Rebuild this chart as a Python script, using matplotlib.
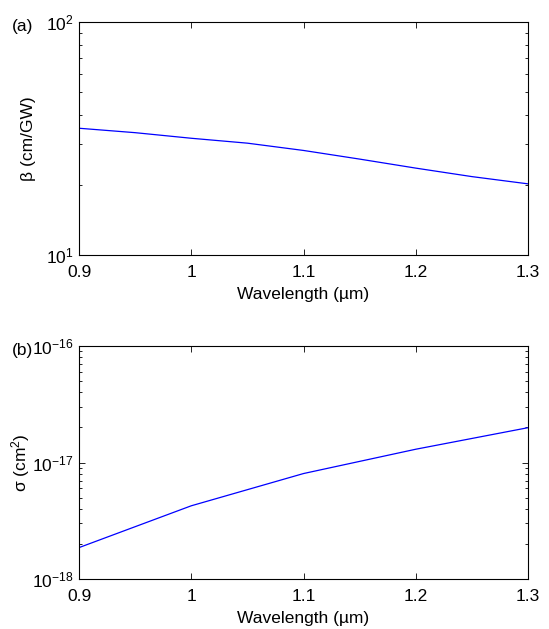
import numpy as np
import matplotlib
matplotlib.use("Agg")
import matplotlib.pyplot as plt
from matplotlib.ticker import LogLocator, NullFormatter

plt.rcParams['font.family'] = ['Liberation Sans', 'DejaVu Sans']
plt.rcParams['mathtext.fontset'] = 'custom'
plt.rcParams['mathtext.rm'] = 'Liberation Sans'
plt.rcParams['mathtext.it'] = 'Liberation Sans'
plt.rcParams['font.size'] = 12.5

# data
wl_beta = [0.9, 0.95, 1.0, 1.05, 1.1, 1.15, 1.2, 1.25, 1.3]
beta = [35.0, 33.5, 31.7, 30.2, 28.1, 25.8, 23.6, 21.7, 20.2]

wl_sigma = [0.9, 1.0, 1.1, 1.2, 1.3]
sigma = [1.86e-18, 4.25e-18, 8.04e-18, 1.30e-17, 1.99e-17]

xticks = [0.9, 1.0, 1.1, 1.2, 1.3]
xticklabels = ['0.9', '1', '1.1', '1.2', '1.3']


def style_axes(ax):
    ax.set_yscale('log')
    ax.set_xlim(0.9, 1.3)
    ax.set_xticks(xticks)
    ax.set_xticklabels(xticklabels)
    ax.yaxis.set_minor_locator(LogLocator(base=10, subs=np.arange(2, 10)))
    ax.yaxis.set_minor_formatter(NullFormatter())
    ax.tick_params(which='both', direction='in', top=True, right=True)
    ax.tick_params(which='major', length=4, width=0.6)
    ax.tick_params(which='minor', length=2, width=0.6)
    ax.tick_params(axis='x', pad=7.5)
    ax.tick_params(axis='y', pad=4)
    for s in ax.spines.values():
        s.set_linewidth(0.8)
    ax.set_xlabel('Wavelength (\u00b5m)', labelpad=4.5)


fig = plt.figure(figsize=(5.49, 6.29), dpi=100)
ax1 = fig.add_axes([0.1439, 0.5946, 0.8179, 0.3704])
ax2 = fig.add_axes([0.1439, 0.0795, 0.8179, 0.3704])

ax1.plot(wl_beta, beta, color='#0000ff', lw=0.9)
style_axes(ax1)
ax1.set_ylim(10, 100)
ax1.set_ylabel('\u03b2 (cm/GW)')
ax1.yaxis.set_label_coords(-0.095, 0.5)
fig.text(0.021, 0.958, '(a)', va='center')

ax2.plot(wl_sigma, sigma, color='#0000ff', lw=0.9)
style_axes(ax2)
ax2.set_ylim(1e-18, 1e-16)
ax2.set_ylabel('\u03c3 (cm$^2$)')
ax2.yaxis.set_label_coords(-0.104, 0.5)
fig.text(0.021, 0.443, '(b)', va='center')

fig.savefig('out.png', dpi=100, facecolor='white')
